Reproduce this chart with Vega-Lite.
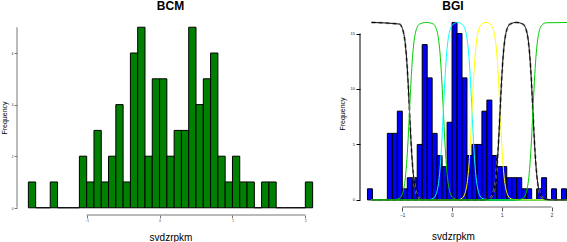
{
"$schema": "https://vega.github.io/schema/vega-lite/v6.json",
"padding": 0,
"background": "white",
"spacing": 14,
"config": {"view": {"stroke": null}, "font": "Liberation Sans", "axis": {"grid": false, "labelColor": "#222", "titleColor": "#000"}, "title": {"color": "#000"}},
"datasets": {
"bcm": [
{"a":-1.8,"b":-1.7,"n":1},{"a":-1.7,"b":-1.6,"n":0},{"a":-1.6,"b":-1.5,"n":0},{"a":-1.5,"b":-1.4,"n":1},{"a":-1.4,"b":-1.3,"n":0},{"a":-1.3,"b":-1.2,"n":0},{"a":-1.2,"b":-1.1,"n":0},{"a":-1.1,"b":-1.0,"n":2},{"a":-1.0,"b":-0.9,"n":1},{"a":-0.9,"b":-0.8,"n":3},{"a":-0.8,"b":-0.7,"n":1},{"a":-0.7,"b":-0.6,"n":2},{"a":-0.6,"b":-0.5,"n":4},{"a":-0.5,"b":-0.4,"n":1},{"a":-0.4,"b":-0.3,"n":6},{"a":-0.3,"b":-0.2,"n":7},{"a":-0.2,"b":-0.1,"n":2},{"a":-0.1,"b":0.0,"n":5},{"a":0.0,"b":0.1,"n":5},{"a":0.1,"b":0.2,"n":2},{"a":0.2,"b":0.3,"n":3},{"a":0.3,"b":0.4,"n":3},{"a":0.4,"b":0.5,"n":7},{"a":0.5,"b":0.6,"n":4},{"a":0.6,"b":0.7,"n":5},{"a":0.7,"b":0.8,"n":6},{"a":0.8,"b":0.9,"n":2},{"a":0.9,"b":1.0,"n":1},{"a":1.0,"b":1.1,"n":2},{"a":1.1,"b":1.2,"n":1},{"a":1.2,"b":1.3,"n":1},{"a":1.3,"b":1.4,"n":0},{"a":1.4,"b":1.5,"n":1},{"a":1.5,"b":1.6,"n":1},{"a":1.6,"b":1.7,"n":0},{"a":1.7,"b":1.8,"n":0},{"a":1.8,"b":1.9,"n":0},{"a":1.9,"b":2.0,"n":0},{"a":2.0,"b":2.1,"n":1}
],
"bgi": [
{"a":-1.7,"b":-1.6,"n":1},{"a":-1.6,"b":-1.5,"n":0},{"a":-1.5,"b":-1.4,"n":0},{"a":-1.4,"b":-1.3,"n":0},{"a":-1.3,"b":-1.2,"n":6},{"a":-1.2,"b":-1.1,"n":6},{"a":-1.1,"b":-1.0,"n":8},{"a":-1.0,"b":-0.9,"n":1},{"a":-0.9,"b":-0.8,"n":2},{"a":-0.8,"b":-0.7,"n":2},{"a":-0.7,"b":-0.6,"n":5},{"a":-0.6,"b":-0.5,"n":14},{"a":-0.5,"b":-0.4,"n":11},{"a":-0.4,"b":-0.3,"n":6},{"a":-0.3,"b":-0.2,"n":4},{"a":-0.2,"b":-0.1,"n":3},{"a":-0.1,"b":0.0,"n":7},{"a":0.0,"b":0.1,"n":16},{"a":0.1,"b":0.2,"n":15},{"a":0.2,"b":0.3,"n":11},{"a":0.3,"b":0.4,"n":4},{"a":0.4,"b":0.5,"n":5},{"a":0.5,"b":0.6,"n":5},{"a":0.6,"b":0.7,"n":8},{"a":0.7,"b":0.8,"n":9},{"a":0.8,"b":0.9,"n":4},{"a":0.9,"b":1.0,"n":3},{"a":1.0,"b":1.1,"n":3},{"a":1.1,"b":1.2,"n":2},{"a":1.2,"b":1.3,"n":2},{"a":1.3,"b":1.4,"n":2},{"a":1.4,"b":1.5,"n":1},{"a":1.5,"b":1.6,"n":1},{"a":1.6,"b":1.7,"n":0},{"a":1.7,"b":1.8,"n":1},{"a":1.8,"b":1.9,"n":2},{"a":1.9,"b":2.0,"n":0},{"a":2.0,"b":2.1,"n":1},{"a":2.1,"b":2.2,"n":0},{"a":2.2,"b":2.3,"n":1}
],
"cur": [
{"k":1,"x":-1.62,"y":16},{"k":1,"x":-1.055,"y":15.85},{"k":1,"x":-1.005,"y":15.53},{"k":1,"x":-0.975,"y":15.08},{"k":1,"x":-0.945,"y":14.26},{"k":1,"x":-0.915,"y":12.83},{"k":1,"x":-0.885,"y":10.7},{"k":1,"x":-0.855,"y":8},{"k":1,"x":-0.825,"y":5.3},{"k":1,"x":-0.795,"y":3.17},{"k":1,"x":-0.765,"y":1.74},{"k":1,"x":-0.735,"y":0.92},{"k":1,"x":-0.705,"y":0.47},{"k":1,"x":-0.655,"y":0.15},{"k":1,"x":-0.58,"y":0.03},{"k":1,"x":-0.45,"y":0},{"k":1,"x":2.4,"y":0},
{"k":2,"x":-1.62,"y":0},{"k":2,"x":-1.2,"y":0},{"k":2,"x":-1.055,"y":0.15},{"k":2,"x":-1.005,"y":0.47},{"k":2,"x":-0.975,"y":0.92},{"k":2,"x":-0.945,"y":1.74},{"k":2,"x":-0.915,"y":3.17},{"k":2,"x":-0.885,"y":5.3},{"k":2,"x":-0.855,"y":8},{"k":2,"x":-0.825,"y":10.7},{"k":2,"x":-0.795,"y":12.83},{"k":2,"x":-0.765,"y":14.26},{"k":2,"x":-0.735,"y":15.08},{"k":2,"x":-0.705,"y":15.53},{"k":2,"x":-0.655,"y":15.85},{"k":2,"x":-0.515,"y":16},{"k":2,"x":-0.375,"y":15.85},{"k":2,"x":-0.325,"y":15.53},{"k":2,"x":-0.295,"y":15.08},{"k":2,"x":-0.265,"y":14.26},{"k":2,"x":-0.235,"y":12.83},{"k":2,"x":-0.205,"y":10.7},{"k":2,"x":-0.175,"y":8},{"k":2,"x":-0.145,"y":5.3},{"k":2,"x":-0.115,"y":3.17},{"k":2,"x":-0.085,"y":1.74},{"k":2,"x":-0.055,"y":0.92},{"k":2,"x":-0.025,"y":0.47},{"k":2,"x":0.025,"y":0.15},{"k":2,"x":0.1,"y":0.03},{"k":2,"x":0.2,"y":0},{"k":2,"x":2.4,"y":0},
{"k":3,"x":-1.62,"y":0},{"k":3,"x":-0.5,"y":0},{"k":3,"x":-0.375,"y":0.15},{"k":3,"x":-0.325,"y":0.47},{"k":3,"x":-0.295,"y":0.92},{"k":3,"x":-0.265,"y":1.74},{"k":3,"x":-0.235,"y":3.17},{"k":3,"x":-0.205,"y":5.3},{"k":3,"x":-0.175,"y":8},{"k":3,"x":-0.145,"y":10.7},{"k":3,"x":-0.115,"y":12.83},{"k":3,"x":-0.085,"y":14.26},{"k":3,"x":-0.055,"y":15.08},{"k":3,"x":-0.025,"y":15.53},{"k":3,"x":0.025,"y":15.85},{"k":3,"x":0.11,"y":16},{"k":3,"x":0.2,"y":15.85},{"k":3,"x":0.25,"y":15.53},{"k":3,"x":0.28,"y":15.08},{"k":3,"x":0.31,"y":14.26},{"k":3,"x":0.34,"y":12.83},{"k":3,"x":0.37,"y":10.7},{"k":3,"x":0.4,"y":8},{"k":3,"x":0.43,"y":5.3},{"k":3,"x":0.46,"y":3.17},{"k":3,"x":0.49,"y":1.74},{"k":3,"x":0.52,"y":0.92},{"k":3,"x":0.55,"y":0.47},{"k":3,"x":0.6,"y":0.15},{"k":3,"x":0.68,"y":0.03},{"k":3,"x":0.8,"y":0},{"k":3,"x":2.4,"y":0},
{"k":4,"x":-1.62,"y":0},{"k":4,"x":0.1,"y":0},{"k":4,"x":0.2,"y":0.15},{"k":4,"x":0.25,"y":0.47},{"k":4,"x":0.28,"y":0.92},{"k":4,"x":0.31,"y":1.74},{"k":4,"x":0.34,"y":3.17},{"k":4,"x":0.37,"y":5.3},{"k":4,"x":0.4,"y":8},{"k":4,"x":0.43,"y":10.7},{"k":4,"x":0.46,"y":12.83},{"k":4,"x":0.49,"y":14.26},{"k":4,"x":0.52,"y":15.08},{"k":4,"x":0.55,"y":15.53},{"k":4,"x":0.6,"y":15.85},{"k":4,"x":0.68,"y":16},{"k":4,"x":0.765,"y":15.85},{"k":4,"x":0.815,"y":15.53},{"k":4,"x":0.845,"y":15.08},{"k":4,"x":0.875,"y":14.26},{"k":4,"x":0.905,"y":12.83},{"k":4,"x":0.935,"y":10.7},{"k":4,"x":0.965,"y":8},{"k":4,"x":0.995,"y":5.3},{"k":4,"x":1.025,"y":3.17},{"k":4,"x":1.055,"y":1.74},{"k":4,"x":1.085,"y":0.92},{"k":4,"x":1.115,"y":0.47},{"k":4,"x":1.165,"y":0.15},{"k":4,"x":1.24,"y":0.03},{"k":4,"x":1.35,"y":0},{"k":4,"x":2.4,"y":0},
{"k":5,"x":-1.62,"y":0},{"k":5,"x":0.65,"y":0},{"k":5,"x":0.765,"y":0.15},{"k":5,"x":0.815,"y":0.47},{"k":5,"x":0.845,"y":0.92},{"k":5,"x":0.875,"y":1.74},{"k":5,"x":0.905,"y":3.17},{"k":5,"x":0.935,"y":5.3},{"k":5,"x":0.965,"y":8},{"k":5,"x":0.995,"y":10.7},{"k":5,"x":1.025,"y":12.83},{"k":5,"x":1.055,"y":14.26},{"k":5,"x":1.085,"y":15.08},{"k":5,"x":1.115,"y":15.53},{"k":5,"x":1.165,"y":15.85},{"k":5,"x":1.295,"y":16},{"k":5,"x":1.425,"y":15.85},{"k":5,"x":1.475,"y":15.53},{"k":5,"x":1.505,"y":15.08},{"k":5,"x":1.535,"y":14.26},{"k":5,"x":1.565,"y":12.83},{"k":5,"x":1.595,"y":10.7},{"k":5,"x":1.625,"y":8},{"k":5,"x":1.655,"y":5.3},{"k":5,"x":1.685,"y":3.17},{"k":5,"x":1.715,"y":1.74},{"k":5,"x":1.745,"y":0.92},{"k":5,"x":1.775,"y":0.47},{"k":5,"x":1.825,"y":0.15},{"k":5,"x":1.9,"y":0.03},{"k":5,"x":2.0,"y":0},{"k":5,"x":2.4,"y":0},
{"k":6,"x":-1.62,"y":0},{"k":6,"x":1.3,"y":0},{"k":6,"x":1.425,"y":0.15},{"k":6,"x":1.475,"y":0.47},{"k":6,"x":1.505,"y":0.92},{"k":6,"x":1.535,"y":1.74},{"k":6,"x":1.565,"y":3.17},{"k":6,"x":1.595,"y":5.3},{"k":6,"x":1.625,"y":8},{"k":6,"x":1.655,"y":10.7},{"k":6,"x":1.685,"y":12.83},{"k":6,"x":1.715,"y":14.26},{"k":6,"x":1.745,"y":15.08},{"k":6,"x":1.775,"y":15.53},{"k":6,"x":1.825,"y":15.85},{"k":6,"x":1.9,"y":15.97},{"k":6,"x":2.4,"y":16}
]
},
"hconcat": [
{
"width": 307, "height": 195,
"title": {"text": "BCM", "fontSize": 12, "fontWeight": "bold", "offset": 7},
"layer": [
{"data": {"name": "bcm"},
 "mark": {"type": "bar", "fill": "#008000", "stroke": "#000000", "strokeWidth": 1},
 "encoding": {
  "x": {"field": "a", "type": "quantitative", "scale": {"domain": [-1.956, 2.256], "nice": false, "zero": false},
        "axis": {"values": [-1, 0, 1, 2], "format": "d", "domain": false, "tickSize": 3, "tickColor": "#777", "labelFontSize": 3, "labelPadding": 1, "labelFlush": false, "title": "svdzrpkm", "titleFontSize": 10, "titleFontWeight": "normal", "titlePadding": 9.5, "minExtent": 8, "maxExtent": 8}},
  "x2": {"field": "b"},
  "y": {"field": "n", "type": "quantitative", "scale": {"domain": [-0.28, 7.28], "nice": false, "zero": false},
        "axis": {"values": [0, 1, 2, 3, 4, 5, 6, 7], "format": "d", "domain": false, "tickSize": 3, "tickColor": "#777", "labelFontSize": 3, "labelPadding": 1, "labelFlush": false, "title": "Frequency", "titleFontSize": 7, "titleFontWeight": "normal", "titlePadding": 1.5, "minExtent": 8.5, "maxExtent": 8.5}},
  "y2": {"datum": 0}
 }},
{"data": {"values": [{}]}, "mark": {"type": "rule", "color": "#777", "strokeWidth": 1},
 "encoding": {"x": {"datum": -1}, "x2": {"datum": 2}, "y": {"datum": -0.28}}},
{"data": {"values": [{}]}, "mark": {"type": "rule", "color": "#777", "strokeWidth": 1},
 "encoding": {"x": {"datum": -1.956}, "y": {"datum": 0}, "y2": {"datum": 7}}}
]
},
{
"width": 207, "height": 187,
"title": {"text": "BGI", "fontSize": 12, "fontWeight": "bold", "offset": 7, "dx": -10.5},
"layer": [
{"data": {"name": "bgi"},
 "mark": {"type": "bar", "fill": "#0000FF", "stroke": "#000000", "strokeWidth": 1, "clip": true},
 "encoding": {
  "x": {"field": "a", "type": "quantitative", "scale": {"domain": [-1.85, 2.31], "nice": false, "zero": false},
        "axis": {"values": [-1, 0, 1, 2], "format": "d", "domain": false, "tickSize": 4, "tickColor": "#555", "labelFontSize": 4.5, "labelPadding": 1.5, "labelFlush": false, "title": "svdzrpkm", "titleFontSize": 10, "titleFontWeight": "normal", "titlePadding": 15.5, "titleX": 93, "minExtent": 9, "maxExtent": 9}},
  "x2": {"field": "b"},
  "y": {"field": "n", "type": "quantitative", "scale": {"domain": [-0.64, 16.22], "nice": false, "zero": false},
        "axis": {"values": [0, 5, 10, 15], "format": "d", "domain": false, "tickSize": 4, "tickColor": "#000", "labelFontSize": 4, "labelPadding": 1.5, "labelFlush": false, "title": "Frequency", "titleFontSize": 7, "titleFontWeight": "normal", "titlePadding": 2.9, "minExtent": 12, "maxExtent": 12}},
  "y2": {"datum": 0}
 }},
{"data": {"name": "cur"}, "transform": [{"filter": "datum.k == 1"}],
 "mark": {"type": "line", "color": "#8c8c8c", "strokeWidth": 2, "strokeDash": [4, 3], "interpolate": "monotone", "clip": true},
 "encoding": {"x": {"field": "x", "type": "quantitative"}, "y": {"field": "y", "type": "quantitative"}}},
{"data": {"name": "cur"}, "transform": [{"filter": "datum.k == 1"}],
 "mark": {"type": "line", "color": "#000000", "strokeWidth": 1, "interpolate": "monotone", "clip": true},
 "encoding": {"x": {"field": "x", "type": "quantitative"}, "y": {"field": "y", "type": "quantitative"}}},
{"data": {"name": "cur"}, "transform": [{"filter": "datum.k == 2"}],
 "mark": {"type": "line", "color": "#00CD00", "strokeWidth": 1, "interpolate": "monotone", "clip": true},
 "encoding": {"x": {"field": "x", "type": "quantitative"}, "y": {"field": "y", "type": "quantitative"}}},
{"data": {"name": "cur"}, "transform": [{"filter": "datum.k == 3"}],
 "mark": {"type": "line", "color": "#00FFFF", "strokeWidth": 1, "interpolate": "monotone", "clip": true},
 "encoding": {"x": {"field": "x", "type": "quantitative"}, "y": {"field": "y", "type": "quantitative"}}},
{"data": {"name": "cur"}, "transform": [{"filter": "datum.k == 4"}],
 "mark": {"type": "line", "color": "#FFFF00", "strokeWidth": 1, "interpolate": "monotone", "clip": true},
 "encoding": {"x": {"field": "x", "type": "quantitative"}, "y": {"field": "y", "type": "quantitative"}}},
{"data": {"name": "cur"}, "transform": [{"filter": "datum.k == 5"}],
 "mark": {"type": "line", "color": "#8c8c8c", "strokeWidth": 2, "strokeDash": [4, 3], "interpolate": "monotone", "clip": true},
 "encoding": {"x": {"field": "x", "type": "quantitative"}, "y": {"field": "y", "type": "quantitative"}}},
{"data": {"name": "cur"}, "transform": [{"filter": "datum.k == 5"}],
 "mark": {"type": "line", "color": "#000000", "strokeWidth": 1, "interpolate": "monotone", "clip": true},
 "encoding": {"x": {"field": "x", "type": "quantitative"}, "y": {"field": "y", "type": "quantitative"}}},
{"data": {"name": "cur"}, "transform": [{"filter": "datum.k == 6"}],
 "mark": {"type": "line", "color": "#00CD00", "strokeWidth": 1, "interpolate": "monotone", "clip": true},
 "encoding": {"x": {"field": "x", "type": "quantitative"}, "y": {"field": "y", "type": "quantitative"}}},
{"data": {"values": [{}]}, "mark": {"type": "rule", "color": "#666", "strokeWidth": 1},
 "encoding": {"x": {"datum": -1}, "x2": {"datum": 2}, "y": {"datum": -0.64}}},
{"data": {"values": [{}]}, "mark": {"type": "rule", "color": "#000", "strokeWidth": 1},
 "encoding": {"x": {"datum": -1.85}, "y": {"datum": 0}, "y2": {"datum": 15}}}
]
}
]
}
